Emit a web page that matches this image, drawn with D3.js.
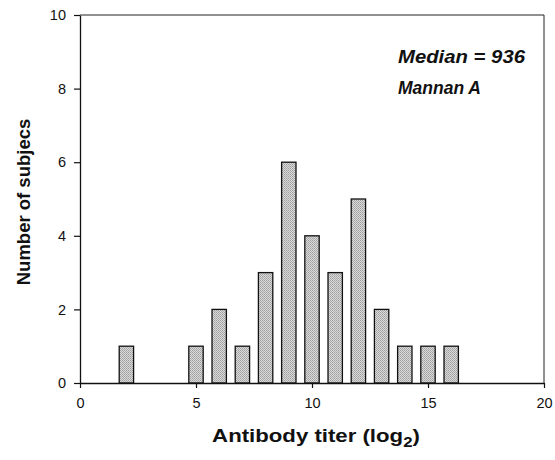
<!DOCTYPE html>
<html>
<head>
<meta charset="utf-8">
<script src="https://cdn.jsdelivr.net/npm/d3@7"></script>
<style>
  html, body { margin: 0; padding: 0; background: #fff; }
  svg { display: block; }
  text { font-family: Arial, "Liberation Sans", Helvetica, sans-serif; fill: #111; }
</style>
</head>
<body>
<svg id="chart" width="555" height="460"></svg>
<script>
// Histogram of antibody titers (log2) against number of subjects
const titers   = [2, 5, 6, 7, 8, 9, 10, 11, 12, 13, 14, 15, 16];
const subjects = [1, 1, 2, 1, 3, 6, 4, 3, 5, 2, 1, 1, 1];
const xTicks = [0, 5, 10, 15, 20];
const yTicks = [0, 2, 4, 6, 8, 10];
const notes = ["Median = 936", "Mannan A"];

const svg = d3.select("#chart");
const margin = { left: 80, right: 11, top: 15, bottom: 77 };
const W = 555, H = 460;

const x = d3.scaleLinear().domain([0, 20]).range([margin.left, W - margin.right]);
const y = d3.scaleLinear().domain([0, 10]).range([H - margin.bottom, margin.top]);
const barW = x(0.62) - x(0);

// stippled gray fill for the bars
const defs = svg.append("defs");
const pat = defs.append("pattern")
  .attr("id", "stipple").attr("patternUnits", "userSpaceOnUse")
  .attr("width", 2).attr("height", 2);
pat.append("rect").attr("width", 2).attr("height", 2).attr("fill", "#dadada");
pat.append("rect").attr("width", 1).attr("height", 1).attr("fill", "#9e9e9e");
pat.append("rect").attr("x", 1).attr("y", 1).attr("width", 1).attr("height", 1).attr("fill", "#aeaeae");

// frame: top and right edges
svg.append("line")
  .attr("x1", x(0)).attr("x2", x(20)).attr("y1", y(10)).attr("y2", y(10))
  .attr("stroke", "#222").attr("stroke-width", 1);
svg.append("line")
  .attr("x1", x(20)).attr("x2", x(20)).attr("y1", y(10)).attr("y2", y(0))
  .attr("stroke", "#222").attr("stroke-width", 1);

// bars
svg.append("g").selectAll("rect")
  .data(titers.map((t, i) => ({ t, n: subjects[i] })))
  .join("rect")
  .attr("x", d => x(d.t) - barW / 2)
  .attr("y", d => y(d.n))
  .attr("width", barW)
  .attr("height", d => y(0) - y(d.n))
  .attr("fill", "url(#stipple)")
  .attr("stroke", "#111")
  .attr("stroke-width", 1.3);

// axes
const xAxis = svg.append("g")
  .attr("transform", `translate(0,${y(0)})`)
  .call(d3.axisBottom(x).tickValues(xTicks).tickSize(5).tickPadding(10).tickSizeOuter(0));
const yAxis = svg.append("g")
  .attr("transform", `translate(${x(0)},0)`)
  .call(d3.axisLeft(y).tickValues(yTicks).tickSize(6).tickPadding(8).tickSizeOuter(0));
[xAxis, yAxis].forEach(g => {
  g.select(".domain").attr("stroke", "#111").attr("stroke-width", 1.3);
  g.selectAll(".tick line").attr("stroke", "#111").attr("stroke-width", 1.2);
  g.selectAll(".tick text")
    .attr("font-family", "Arial, 'Liberation Sans', sans-serif")
    .attr("font-size", 14.5).attr("fill", "#111");
});

// axis titles
const xt = svg.append("text")
  .attr("transform", `translate(${(x(0) + x(20)) / 2 + 4},442) scale(1.2,1)`)
  .attr("text-anchor", "middle")
  .attr("font-size", 18.5).attr("font-weight", "bold");
xt.append("tspan").text("Antibody titer (log");
xt.append("tspan").attr("font-size", 14).attr("dy", 5).text("2");
xt.append("tspan").attr("dy", -5).text(")");

svg.append("text")
  .attr("transform", `translate(30,${(y(0) + y(10)) / 2 + 3}) rotate(-90)`)
  .attr("text-anchor", "middle")
  .attr("font-size", 18.5).attr("font-weight", "bold")
  .text("Number of subjecs");

// annotations
const noteText = svg.append("g").selectAll("text")
  .data(notes)
  .join("text")
  .attr("x", 398)
  .attr("y", (d, i) => 63 + i * 31)
  .attr("font-size", 17.5).attr("font-weight", "bold").attr("font-style", "italic")
  .text(d => d);
// the median line is set a little wider
noteText.filter((d, i) => i === 0)
  .attr("textLength", 127)
  .attr("lengthAdjust", "spacingAndGlyphs");
</script>
</body>
</html>
